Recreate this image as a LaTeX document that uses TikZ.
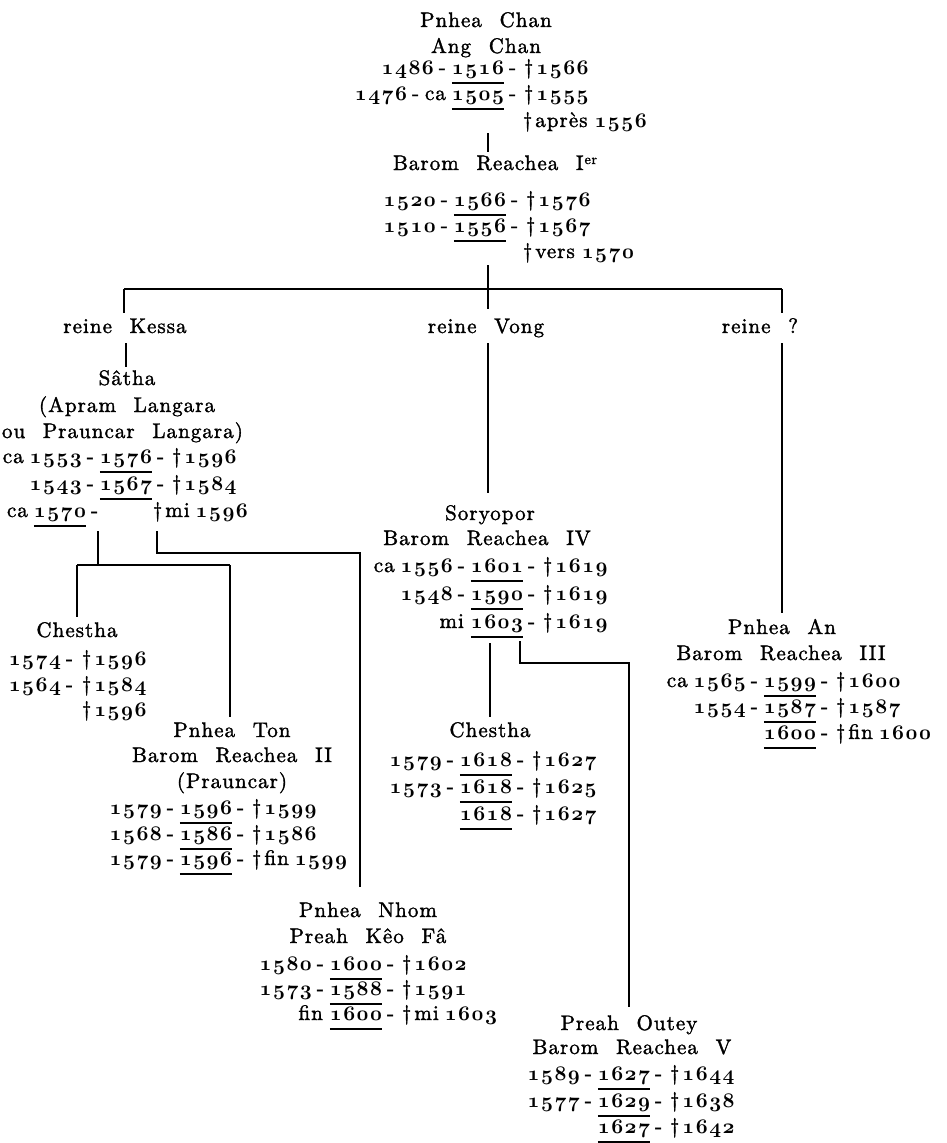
\documentclass[tikz,border=0pt]{standalone}
\usepackage{fontspec}
\setmainfont{lmroman10-regular.otf}[LetterSpace=5,WordSpace=2.2,FakeBold=1.6]
\makeatletter
\newcommand\osn[1]{{\usefont{OML}{cmm}{b}{it}\osn@loop#1\relax\unkern}}
\def\osn@loop#1{\ifx\relax#1\else#1\kern1.5pt\expandafter\osn@loop\fi}
\makeatother
\newcommand\ul[1]{\setbox0\hbox{#1}\rlap{\rule[-9.5pt]{\wd0}{1.7pt}}\box0}
\newcommand\dg[1]{\textdagger\kern3pt\osn{#1}}
\newcommand\Ld[1]{#1\kern5pt-\kern6pt}
\newcommand\Rd[1]{\kern5pt-\kern8pt#1}
\tikzset{T/.style={inner sep=0pt,outer sep=0pt,font=\fontsize{21}{25}\selectfont},
  ln/.style={line width=1.1pt}}
\newcommand\dline[6]{%
  \node[T,anchor=base] (#1) at (#2,#3) {\ul{\osn{#5}}};
  \node[T,anchor=base east] (#1l) at (#1.base west) {#4};
  \node[T,anchor=base west] (#1r) at (#1.base east) {#6};}
\begin{document}
\begin{tikzpicture}[x=1pt,y=-1pt]
\useasboundingbox[fill=white] (0,0) rectangle (946,1143);
% Pnhea Chan
\node[T,anchor=base] (chan1) at (486,27) {Pnhea Chan};
\node[T,anchor=base] (chan2) at (486,53) {Ang Chan};
\dline{chanA}{478}{74}{\Ld{\osn{1486}}}{1516}{\Rd{\dg{1566}}}
\dline{chanB}{478}{100}{\osn{1476}\kern5pt-\kern6pt ca\kern6pt}{1505}{\Rd{\dg{1555}}}
\node[T,anchor=base west] (chanC) at (523,127) {\textdagger\kern3pt après\kern7pt\osn{1556}};
% Barom Reachea I
\node[T,anchor=base] (br1) at (495,170) {Barom Reachea I\kern1pt\raisebox{6pt}{\fontsize{14}{14}\selectfont er}};
\dline{brA}{480}{206}{\Ld{\osn{1520}}}{1566}{\Rd{\dg{1576}}}
\dline{brB}{480}{232}{\Ld{\osn{1510}}}{1556}{\Rd{\dg{1567}}}
\node[T,anchor=base west] (brC) at (523,258) {\textdagger\kern3pt vers\kern7pt\osn{1570}};
% queens
\node[T,anchor=base] (kessa) at (125,333) {reine Kessa};
\node[T,anchor=base] (vong) at (486,333) {reine Vong};
\node[T,anchor=base] (rq) at (760,333) {reine ?};
% Satha
\node[T,anchor=base] (s1) at (127,385) {Sâtha};
\node[T,anchor=base] (s2) at (127,412) {(Apram Langara};
\node[T,anchor=base west] (s3) at (2,438) {ou Prauncar Langara)};
\dline{sA}{126}{463}{\Ld{ca\kern6pt\osn{1553}}}{1576}{\Rd{\dg{1596}}}
\dline{sB}{126}{490}{\Ld{\osn{1543}}}{1567}{\Rd{\dg{1584}}}
\dline{sC}{60}{517}{ca\kern6pt}{1570}{\kern5pt-}
\node[T,anchor=base west] (sD) at (153,517) {\textdagger\kern3pt mi\kern6pt\osn{1596}};
% Chestha (left)
\node[T,anchor=base] (cl1) at (77,637) {Chestha};
\node[T,anchor=base east] (cl2a) at (73,665) {\osn{1574}\kern5pt-};
\node[T,anchor=base west] (cl2b) at (82,665) {\dg{1596}};
\node[T,anchor=base east] (cl3a) at (73,691) {\osn{1564}\kern5pt-};
\node[T,anchor=base west] (cl3b) at (82,691) {\dg{1584}};
\node[T,anchor=base west] (cl4) at (82,716) {\dg{1596}};
% Pnhea Ton
\node[T,anchor=base] (t1) at (232,737) {Pnhea Ton};
\node[T,anchor=base] (t2) at (232,762) {Barom Reachea II};
\node[T,anchor=base] (t3) at (232,788) {(Prauncar)};
\dline{tA}{206}{814}{\Ld{\osn{1579}}}{1596}{\Rd{\dg{1599}}}
\dline{tB}{206}{840}{\Ld{\osn{1568}}}{1586}{\Rd{\dg{1586}}}
\dline{tC}{206}{865}{\Ld{\osn{1579}}}{1596}{\Rd{\textdagger\kern3pt fin\kern6pt\osn{1599}}}
% Soryopor
\node[T,anchor=base] (so1) at (490,520) {Soryopor};
\node[T,anchor=base] (so2) at (487,545) {Barom Reachea IV};
\dline{soA}{497}{572}{\Ld{ca\kern6pt\osn{1556}}}{1601}{\Rd{\dg{1619}}}
\dline{soB}{497}{600}{\Ld{\osn{1548}}}{1590}{\Rd{\dg{1619}}}
\dline{soC}{497}{628}{mi\kern7pt}{1603}{\Rd{\dg{1619}}}
% Chestha (middle)
\node[T,anchor=base] (cm1) at (490,737) {Chestha};
\dline{cmA}{486}{766}{\Ld{\osn{1579}}}{1618}{\Rd{\dg{1627}}}
\dline{cmB}{486}{793}{\Ld{\osn{1573}}}{1618}{\Rd{\dg{1625}}}
\dline{cmC}{486}{820}{}{1618}{\Rd{\dg{1627}}}
% Pnhea Nhom
\node[T,anchor=base] (nh1) at (368,917) {Pnhea Nhom};
\node[T,anchor=base] (nh2) at (368,943) {Preah Kêo Fâ};
\dline{nhA}{356}{970}{\Ld{\osn{1580}}}{1600}{\Rd{\dg{1602}}}
\dline{nhB}{356}{995}{\Ld{\osn{1573}}}{1588}{\Rd{\dg{1591}}}
\dline{nhC}{356}{1020}{fin\kern7pt}{1600}{\Rd{\textdagger\kern3pt mi\kern6pt\osn{1603}}}
% Pnhea An
\node[T,anchor=base] (an1) at (782,634) {Pnhea An};
\node[T,anchor=base] (an2) at (781,660) {Barom Reachea III};
\dline{anA}{790}{687}{\Ld{ca\kern6pt\osn{1565}}}{1599}{\Rd{\dg{1600}}}
\dline{anB}{790}{713}{\Ld{\osn{1554}}}{1587}{\Rd{\dg{1587}}}
\dline{anC}{790}{739}{}{1600}{\Rd{\textdagger\kern3pt fin\kern6pt\osn{1600}}}
% Preah Outey
\node[T,anchor=base] (o1) at (629,1030) {Preah Outey};
\node[T,anchor=base] (o2) at (632,1054) {Barom Reachea V};
\dline{oA}{624}{1080}{\Ld{\osn{1589}}}{1627}{\Rd{\dg{1644}}}
\dline{oB}{624}{1107}{\Ld{\osn{1577}}}{1629}{\Rd{\dg{1638}}}
\dline{oC}{624}{1133}{}{1627}{\Rd{\dg{1642}}}
% connector coordinates
\coordinate (j0a) at (488,133); \coordinate (j0b) at (488,152);
\coordinate (j1a) at (488,265); \coordinate (j1b) at (488,289);
\coordinate (hl) at (124,289); \coordinate (hr) at (782,289);
\coordinate (kA) at (124,313); \coordinate (vA) at (488,309); \coordinate (qA) at (782,313);
\coordinate (kB) at (126,343); \coordinate (kC) at (126,367);
\coordinate (vB) at (488,343); \coordinate (vC) at (488,493);
\coordinate (qB) at (782,343); \coordinate (qC) at (782,613);
\coordinate (sa1) at (98,531); \coordinate (sa2) at (98,565);
\coordinate (sl) at (77,565); \coordinate (sr) at (230,565);
\coordinate (cl0) at (77,617); \coordinate (t0) at (230,717);
\coordinate (sb1) at (157,531); \coordinate (sb2) at (157,553);
\coordinate (nh0) at (360,887);
\coordinate (so0) at (490,643); \coordinate (cm0) at (490,717);
\coordinate (sx1) at (520,641); \coordinate (sx2) at (520,663);
\coordinate (o0) at (629,1007);
% connectors
\draw[ln] (j0a) -- (j0b);
\draw[ln] (j1a) -- (j1b);
\draw[ln] (hl) -- (hr);
\draw[ln] (hl) -- (kA);
\draw[ln] (j1b) -- (vA);
\draw[ln] (hr) -- (qA);
\draw[ln] (kB) -- (kC);
\draw[ln] (vB) -- (vC);
\draw[ln] (qB) -- (qC);
\draw[ln] (sa1) -- (sa2);
\draw[ln] (sl) -- (sr);
\draw[ln] (sl) -- (cl0);
\draw[ln] (sr) -- (t0);
\draw[ln] (sb1) -- (sb2) -| (nh0);
\draw[ln] (so0) -- (cm0);
\draw[ln] (sx1) -- (sx2) -| (o0);
\end{tikzpicture}
\end{document}
